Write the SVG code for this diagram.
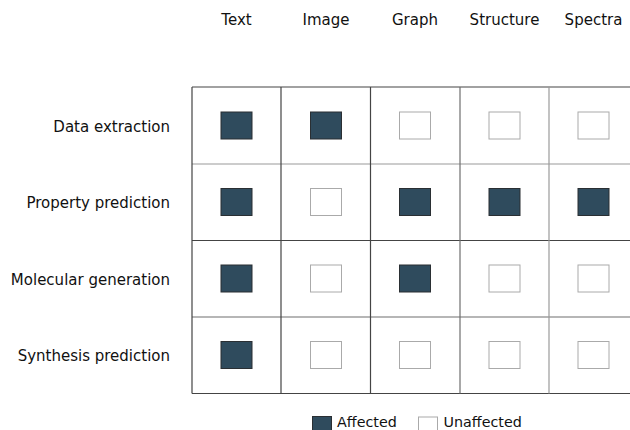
<svg xmlns="http://www.w3.org/2000/svg" width="630" height="430" viewBox="0 0 630 430">
<style>
text{font-family:"DejaVu Sans",sans-serif;font-size:15px;fill:#111}
.h{text-anchor:middle}
.r{text-anchor:end}
.lg{font-size:14.3px}
.on{fill:#2f4b5d;stroke:#2a2f33;stroke-width:1}
.off{fill:#fff;stroke:#aaaaaa;stroke-width:1}
.dk{stroke:#444;stroke-width:1.2}
.md{stroke:#6e6e6e;stroke-width:1.2}
.lt{stroke:#9a9a9a;stroke-width:1.2}
</style>
<rect width="630" height="430" fill="#fff"/>
<g id="headers">
<text class="h" x="236.5" y="25">Text</text>
<text class="h" x="326" y="25">Image</text>
<text class="h" x="415" y="25">Graph</text>
<text class="h" x="504.5" y="25">Structure</text>
<text class="h" x="593.5" y="25">Spectra</text>
</g>
<g id="rowlabels">
<text class="r" x="170" y="131.5">Data extraction</text>
<text class="r" x="170" y="208">Property prediction</text>
<text class="r" x="170" y="284.5">Molecular generation</text>
<text class="r" x="170" y="361">Synthesis prediction</text>
</g>
<g id="grid">
<line class="dk" x1="192" y1="87" x2="630" y2="87"/>
<line class="lt" x1="192" y1="164" x2="630" y2="164"/>
<line class="dk" x1="192" y1="240.5" x2="630" y2="240.5"/>
<line class="md" x1="192" y1="317" x2="630" y2="317"/>
<line class="dk" x1="192" y1="393.5" x2="630" y2="393.5"/>
<line class="dk" x1="192" y1="87" x2="192" y2="393.5"/>
<line class="dk" x1="281" y1="87" x2="281" y2="393.5"/>
<line class="dk" x1="370.5" y1="87" x2="370.5" y2="393.5"/>
<line class="md" x1="460" y1="87" x2="460" y2="393.5"/>
<line class="lt" x1="549" y1="87" x2="549" y2="393.5"/>
</g>
<g id="row1">
<rect class="on" x="221" y="112" width="31" height="27"/>
<rect class="on" x="310.5" y="112" width="31" height="27"/>
<rect class="off" x="399.5" y="112" width="31" height="27"/>
<rect class="off" x="489" y="112" width="31" height="27"/>
<rect class="off" x="578" y="112" width="31" height="27"/>
</g>
<g id="row2">
<rect class="on" x="221" y="188.5" width="31" height="27"/>
<rect class="off" x="310.5" y="188.5" width="31" height="27"/>
<rect class="on" x="399.5" y="188.5" width="31" height="27"/>
<rect class="on" x="489" y="188.5" width="31" height="27"/>
<rect class="on" x="578" y="188.5" width="31" height="27"/>
</g>
<g id="row3">
<rect class="on" x="221" y="265" width="31" height="27"/>
<rect class="off" x="310.5" y="265" width="31" height="27"/>
<rect class="on" x="399.5" y="265" width="31" height="27"/>
<rect class="off" x="489" y="265" width="31" height="27"/>
<rect class="off" x="578" y="265" width="31" height="27"/>
</g>
<g id="row4">
<rect class="on" x="221" y="341.5" width="31" height="27"/>
<rect class="off" x="310.5" y="341.5" width="31" height="27"/>
<rect class="off" x="399.5" y="341.5" width="31" height="27"/>
<rect class="off" x="489" y="341.5" width="31" height="27"/>
<rect class="off" x="578" y="341.5" width="31" height="27"/>
</g>
<g id="legend">
<rect class="on" x="312.5" y="416.5" width="19" height="16"/>
<text class="lg" x="337" y="427">Affected</text>
<rect class="off" x="418.5" y="417" width="19" height="16"/>
<text class="lg" x="443.5" y="427">Unaffected</text>
</g>
</svg>
